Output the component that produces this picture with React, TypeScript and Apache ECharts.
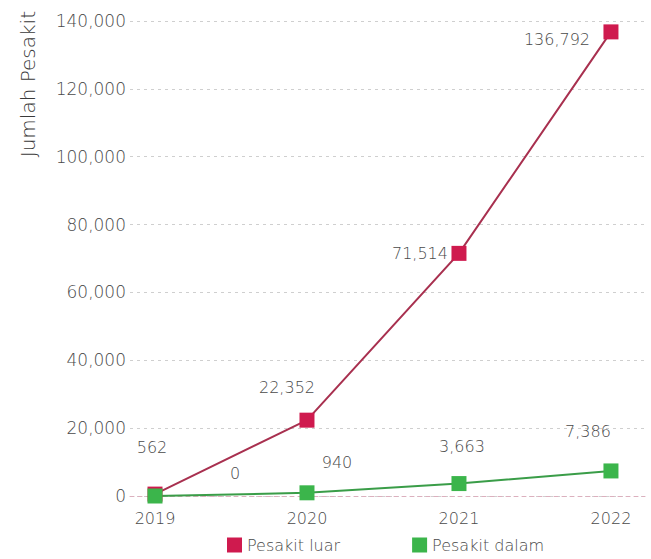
import React, { useEffect, useRef } from "react";
import * as echarts from "echarts";

const years = [2019, 2020, 2021, 2022];
const pesakitLuar = [562, 22352, 71514, 136792];
const pesakitDalam = [0, 940, 3663, 7386];
const luarLabelOffsets = [[-3, -47], [-20, -33], [-39, 0], [-54, 8]];
const dalamLabelOffsets = [[80, -23], [30, -30], [3, -37], [-23, -39]];

const FONT = "DejaVu Sans";
const TEXT = "#4a4a4a";

export default function App() {
  const ref = useRef<HTMLDivElement>(null);
  useEffect(() => {
    const chart = echarts.init(ref.current!, null, { renderer: "svg" });
    const mk = (vals: number[], offs: number[][]) =>
      vals.map((v, i) => ({
        value: [years[i], v],
        label: {
          show: true,
          position: "inside",
          offset: offs[i],
          formatter: v.toLocaleString("en-US"),
          color: TEXT,
          fontFamily: FONT,
          fontWeight: 200,
          fontSize: 16,
        },
      }));
    chart.setOption({
      animation: false,
      backgroundColor: "#fff",
      grid: { left: 130, right: 6, top: 21, bottom: 63 },
      legend: {
        left: 227,
        top: 537,
        padding: 0,
        itemWidth: 15,
        itemHeight: 15,
        itemGap: 72,
        icon: "rect",
        textStyle: { color: TEXT, fontFamily: FONT, fontWeight: 200, fontSize: 16, lineHeight: 16 },
        data: ["Pesakit luar", "Pesakit dalam"],
      },
      graphic: [
        {
          type: "text",
          x: 28,
          y: 11,
          rotation: Math.PI / 2,
          style: {
            text: "Jumlah Pesakit",
            align: "right",
            verticalAlign: "middle",
            fill: "#3a3a3a",
            font: `200 20px "${FONT}"`,
          },
        },
      ],
      xAxis: {
        type: "value",
        min: 2018.8355,
        max: 2022.224,
        axisLine: { show: true, lineStyle: { color: "#dcb0be", type: [4, 4], width: 1 } },
        axisTick: { show: false, customValues: years },
        splitLine: { show: false },
        axisLabel: {
          customValues: years,
          formatter: (v: number) => String(v),
          margin: 14,
          color: TEXT,
          fontFamily: FONT,
          fontWeight: 200,
          fontSize: 16,
        },
      },
      yAxis: {
        type: "value",
        min: 0,
        max: 140000,
        interval: 20000,
        axisLine: { show: false },
        axisTick: { show: false },
        splitLine: { lineStyle: { color: "#cfcfcf", type: [3, 4], width: 1 } },
        axisLabel: {
          margin: 4,
          color: TEXT,
          fontFamily: FONT,
          fontWeight: 200,
          fontSize: 17,
          formatter: (v: number) => v.toLocaleString("en-US"),
        },
      },
      series: [
        {
          name: "Pesakit luar",
          type: "line",
          symbol: "rect",
          symbolSize: 15,
          itemStyle: { color: "#cf1a4e" },
          lineStyle: { color: "#a8304f", width: 2 },
          data: mk(pesakitLuar, luarLabelOffsets),
        },
        {
          name: "Pesakit dalam",
          type: "line",
          symbol: "rect",
          symbolSize: 15,
          itemStyle: { color: "#3bb54b" },
          lineStyle: { color: "#3a9d48", width: 2 },
          data: mk(pesakitDalam, dalamLabelOffsets),
        },
      ],
    });
    return () => chart.dispose();
  }, []);
  return <div ref={ref} style={{ width: 651, height: 559, position: "absolute", left: 0, top: 0 }} />;
}
